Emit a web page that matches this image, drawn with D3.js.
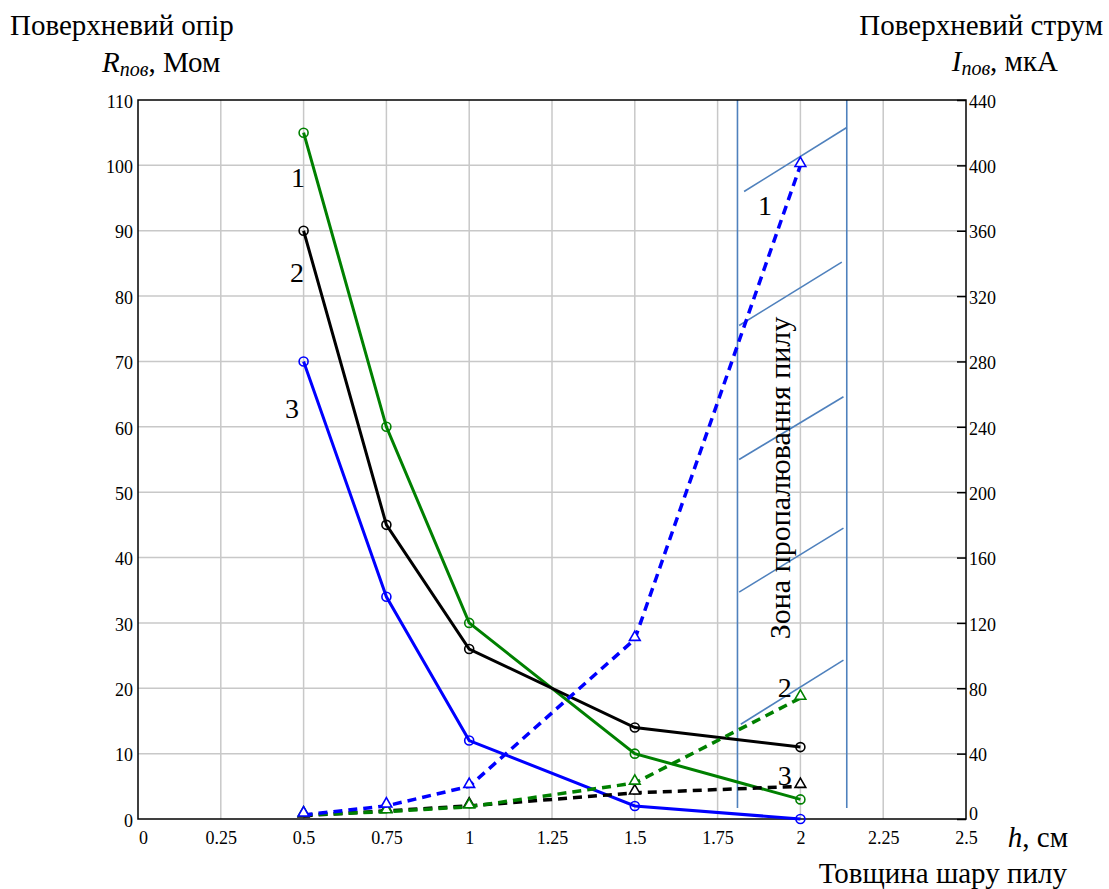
<!DOCTYPE html>
<html>
<head>
<meta charset="utf-8">
<script src="https://cdn.jsdelivr.net/npm/d3@7/dist/d3.min.js"></script>
<style>
  body { margin: 0; background: #fff; }
  svg text { font-family: "Liberation Serif", "Times New Roman", serif; fill: #000; }
  .grid line { stroke: #c8c8c8; stroke-width: 1.5; }
  .axis path, .axis line { stroke: #000; }
</style>
</head>
<body>
<div id="chart"></div>
<script>
// thickness of dust layer, cm
const thickness = [0.5, 0.75, 1, 1.5, 2];

// surface resistance, MOhm (left axis)
const resistance1 = [105, 60, 30, 10, 3];
const resistance2 = [90, 45, 26, 14, 11];
const resistance3 = [70, 34, 12, 2, 0];

// surface current, uA (right axis)
const current1 = [2.5, 8, 20, 110, 400];
const current2 = [2.5, 4.5, 7.5, 22, 74];
const current3 = [2, 5, 8, 16, 20];

const xTicks = [0, 0.25, 0.5, 0.75, 1, 1.25, 1.5, 1.75, 2, 2.25, 2.5];
const yLeftTicks = d3.range(0, 111, 10);
const yRightTicks = d3.range(0, 441, 40);

// burning zone boundaries (cm) and hatch strokes [x0, y0, x1, y1] in left-axis units
const zoneBounds = [1.81, 2.14];
const hatches = [
  [1.83, 96, 2.14, 105.8],
  [1.815, 75.5, 2.125, 85.2],
  [1.815, 55, 2.13, 64.6],
  [1.815, 34.7, 2.13, 44.5],
  [1.82, 14.5, 2.13, 24.3]
];

const margin = { top: 100, right: 143, bottom: 70, left: 138 };
const W = 1109, H = 889;
const width = W - margin.left - margin.right;
const height = H - margin.top - margin.bottom;

const svg = d3.select('#chart').append('svg')
  .attr('width', W).attr('height', H)
  .style('font-family', '"Liberation Serif", "Times New Roman", serif');

const plot = svg.append('g')
  .attr('transform', `translate(${margin.left},${margin.top})`);

const x = d3.scaleLinear().domain([0, 2.5]).range([0, width]);
const yL = d3.scaleLinear().domain([0, 110]).range([height, 0]);
const yR = d3.scaleLinear().domain([0, 440]).range([height, 0]);

// grid
const grid = plot.append('g').attr('class', 'grid');
grid.selectAll('.gx').data(xTicks.slice(1, -1)).join('line')
  .attr('x1', d => x(d)).attr('x2', d => x(d))
  .attr('y1', 0).attr('y2', height);
grid.selectAll('.gy').data(yLeftTicks.slice(1, -1)).join('line')
  .attr('x1', 0).attr('x2', width)
  .attr('y1', d => yL(d)).attr('y2', d => yL(d));

// burning zone
const zoneColor = '#4f81bd';
const zone = plot.append('g').attr('class', 'zone')
  .attr('stroke', zoneColor).attr('stroke-width', 1.6);
zone.selectAll('line.bound').data(zoneBounds).join('line')
  .attr('class', 'bound')
  .attr('x1', d => x(d)).attr('x2', d => x(d))
  .attr('y1', 0).attr('y2', yL(1.7));
zone.selectAll('line.hatch').data(hatches).join('line')
  .attr('class', 'hatch')
  .attr('x1', d => x(d[0])).attr('y1', d => yL(d[1]))
  .attr('x2', d => x(d[2])).attr('y2', d => yL(d[3]));

plot.append('text')
  .attr('transform', `translate(${790 - margin.left},${478 - margin.top}) rotate(-90)`)
  .attr('text-anchor', 'middle')
  .style('font-size', '30px')
  .text('Зона пропалювання пилу');

// axes frame
plot.append('rect')
  .attr('width', width).attr('height', height)
  .attr('fill', 'none').attr('stroke', '#000').attr('stroke-width', 1.5);

const fmt = d => String(d);
const xAxis = plot.append('g').attr('class', 'axis')
  .attr('transform', `translate(0,${height})`)
  .call(d3.axisBottom(x).tickValues(xTicks).tickFormat(fmt).tickSize(0).tickPadding(12));
xAxis.attr('font-family', null).attr('font-size', null);
xAxis.select('.domain').remove();
xAxis.selectAll('text').style('font-size', '18px')
  .attr('dx', (d, i) => i === 0 ? 5 : 0);

const yAxisL = plot.append('g').attr('class', 'axis')
  .call(d3.axisLeft(yL).tickValues(yLeftTicks).tickFormat(fmt).tickSize(0).tickPadding(5));
yAxisL.attr('font-family', null).attr('font-size', null);
yAxisL.select('.domain').remove();
yAxisL.selectAll('text').style('font-size', '18px').attr('dy', '0.4em');

const yAxisR = plot.append('g').attr('class', 'axis')
  .attr('transform', `translate(${width},0)`)
  .call(d3.axisRight(yR).tickValues(yRightTicks).tickFormat(fmt).tickSizeInner(-9).tickSizeOuter(0).tickPadding(3));
yAxisR.attr('font-family', null).attr('font-size', null);
yAxisR.select('.domain').remove();
yAxisR.selectAll('line').attr('stroke-width', 1.5);
yAxisR.selectAll('text').style('font-size', '18px')
  .attr('dy', d => d === 0 ? '0.05em' : '0.4em');

// series
const series = [
  { vals: resistance1, color: '#008000', scale: yL, dashed: false },
  { vals: resistance2, color: '#000000', scale: yL, dashed: false },
  { vals: resistance3, color: '#0000ff', scale: yL, dashed: false },
  { vals: current3, color: '#000000', scale: yR, dashed: true },
  { vals: current2, color: '#008000', scale: yR, dashed: true },
  { vals: current1, color: '#0000ff', scale: yR, dashed: true }
];

const tri = d3.symbol().type(d3.symbolTriangle).size(50);

series.forEach(s => {
  const pts = thickness.map((t, i) => [t, s.vals[i]]);
  const line = d3.line().x(d => x(d[0])).y(d => s.scale(d[1]));
  plot.append('path')
    .datum(pts)
    .attr('d', line)
    .attr('fill', 'none')
    .attr('stroke', s.color)
    .attr('stroke-width', s.dashed ? 3.5 : 3)
    .attr('stroke-dasharray', s.dashed ? '9,6' : null);
  if (s.dashed) {
    plot.append('g').selectAll('path').data(pts).join('path')
      .attr('d', tri)
      .attr('transform', d => `translate(${x(d[0])},${s.scale(d[1]) - 2})`)
      .attr('fill', '#fff').attr('stroke', s.color).attr('stroke-width', 1.6);
  } else {
    plot.append('g').selectAll('circle').data(pts).join('circle')
      .attr('cx', d => x(d[0])).attr('cy', d => s.scale(d[1]))
      .attr('r', 4.5)
      .attr('fill', 'none').attr('stroke', s.color).attr('stroke-width', 1.6);
  }
});

// curve numbers (positions in data units, left axis)
const curveLabels = [
  { t: '1', x: 0.483, y: 96.7 },
  { t: '2', x: 0.48, y: 82.2 },
  { t: '3', x: 0.465, y: 61.35 },
  { t: '1', x: 1.893, y: 92.4 },
  { t: '2', x: 1.953, y: 18.7 },
  { t: '3', x: 1.953, y: 5.2 }
];
plot.append('g').selectAll('text').data(curveLabels).join('text')
  .attr('x', d => x(d.x)).attr('y', d => yL(d.y))
  .attr('text-anchor', 'middle')
  .style('font-size', '28px')
  .text(d => d.t);

// axis titles
svg.append('text').attr('x', 10).attr('y', 35)
  .style('font-size', '29px').text('Поверхневий опір');
const rl = svg.append('text').attr('x', 102).attr('y', 72).style('font-size', '29px');
rl.append('tspan').style('font-style', 'italic').text('R');
rl.append('tspan').style('font-style', 'italic').style('font-size', '20px').attr('dy', 4).text('пов');
rl.append('tspan').attr('dy', -4).text(', Мом');

svg.append('text').attr('x', 1103).attr('y', 35).attr('text-anchor', 'end')
  .style('font-size', '29px').text('Поверхневий струм');
const il = svg.append('text').attr('x', 1058).attr('y', 71).attr('text-anchor', 'end').style('font-size', '29px');
il.append('tspan').style('font-style', 'italic').text('I');
il.append('tspan').style('font-style', 'italic').style('font-size', '20px').attr('dy', 4).text('пов');
il.append('tspan').attr('dy', -4).text(', мкА');

const hl = svg.append('text').attr('x', 1068).attr('y', 847).attr('text-anchor', 'end').style('font-size', '29px');
hl.append('tspan').style('font-style', 'italic').text('h');
hl.append('tspan').text(', см');

svg.append('text').attr('x', 1067).attr('y', 883).attr('text-anchor', 'end')
  .style('font-size', '29px').text('Товщина шару пилу');
</script>
</body>
</html>
